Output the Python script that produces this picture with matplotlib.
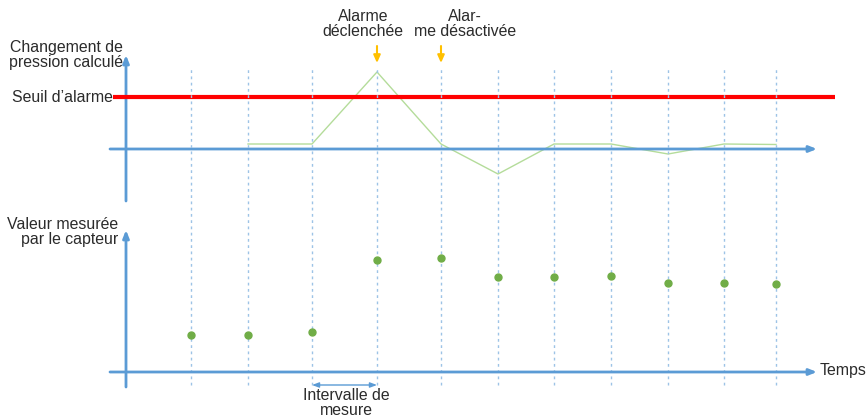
import matplotlib.pyplot as plt

plt.rcParams['font.family'] = ['Liberation Sans', 'DejaVu Sans']

# measurement instants (time units, origin at the vertical axes)
times = [65, 122, 186, 251, 315, 372, 428, 485, 542, 598, 650]
# raw sensor values
measured = [37, 37, 40, 112, 114, 95, 95, 96, 89, 89, 88]
# computed pressure change, available from the second sample on
change = [5, 5, 77, 5, -25, 5, 5, -5, 5, 4.5]
threshold = 52
alarm_on, alarm_off = 3, 4   # indices of the samples where the alarm toggles

blue = '#5b9bd5'
dot_blue = '#9dc3e6'
red = '#ff0000'
line_green = '#b4dc9a'
dot_green = '#70ad47'
orange = '#ffc000'
txt = '#2b2b2b'

fig = plt.figure(figsize=(8.68, 4.18), dpi=100)

# layout axes in pixel units for the labels
base = fig.add_axes([0, 0, 1, 1])
base.set_xlim(0, 868)
base.set_ylim(418, 0)
base.axis('off')

# upper panel: calculated change, lower panel: measured value
top = fig.add_axes([0, 0, 1, 1], facecolor='none')
top.set_xlim(-126, 742)
top.set_ylim(149 - 418, 149)
top.axis('off')

bot = fig.add_axes([0, 0, 1, 1], facecolor='none')
bot.set_xlim(-126, 742)
bot.set_ylim(-46, 372)
bot.axis('off')


def axis_arrow(ax, start, end, **kw):
    ax.annotate('', xy=end, xytext=start,
                arrowprops=dict(arrowstyle='-|>,head_length=0.45,head_width=0.18',
                                color=blue, lw=2, shrinkA=0, shrinkB=0, **kw))


# sampling grid
for t in times:
    bot.axvline(t, ymin=(418 - 385) / 418, ymax=(418 - 69) / 418,
                color=dot_blue, lw=1, ls=(0, (2, 2.5)), zorder=1)

# axes of both panels
axis_arrow(top, (-16, 0), (691, 0))
axis_arrow(top, (0, -52), (0, 94))
axis_arrow(bot, (-16, 0), (691, 0))
axis_arrow(bot, (0, -15), (0, 142))

# alarm threshold and computed change
top.hlines(threshold, -13, 709, color=red, lw=3, zorder=3)
top.plot(times[1:], change, color=line_green, lw=1, zorder=2)

# sensor samples
bot.plot(times, measured, 'o', color=dot_green, ms=5, zorder=4)

# alarm switching markers
for i in (alarm_on, alarm_off):
    top.annotate('', xy=(times[i], 86), xytext=(times[i], 103),
                 arrowprops=dict(arrowstyle='-|>,head_length=0.45,head_width=0.2',
                                 color=orange, lw=1.5, shrinkA=0, shrinkB=0))

# measurement interval
bot.annotate('', xy=(times[3], -13), xytext=(times[2], -13),
             arrowprops=dict(arrowstyle='<|-|>,head_length=0.4,head_width=0.15',
                             color=blue, lw=1, shrinkA=0, shrinkB=0))

fs = 11.4
base.text(123, 55, 'Changement de\npression calculé', ha='right', va='center',
          fontsize=fs, color=txt, linespacing=1.0)
base.text(12, 97, 'Seuil d’alarme', ha='left', va='center', fontsize=fs, color=txt)
base.text(363, 24, 'Alarme\ndéclenchée', ha='center', va='center',
          fontsize=fs, color=txt, linespacing=1.0)
base.text(465, 24, 'Alar-\nme désactivée', ha='center', va='center',
          fontsize=fs, color=txt, linespacing=1.0)
base.text(118, 232, 'Valeur mesurée\npar le capteur', ha='right', va='center',
          fontsize=fs, color=txt, linespacing=1.0)
base.text(346, 403, 'Intervalle de\nmesure', ha='center', va='center',
          fontsize=fs, color=txt, linespacing=1.0)
base.text(820, 370, 'Temps', ha='left', va='center', fontsize=fs, color=txt)

fig.savefig('out.png', dpi=100)
